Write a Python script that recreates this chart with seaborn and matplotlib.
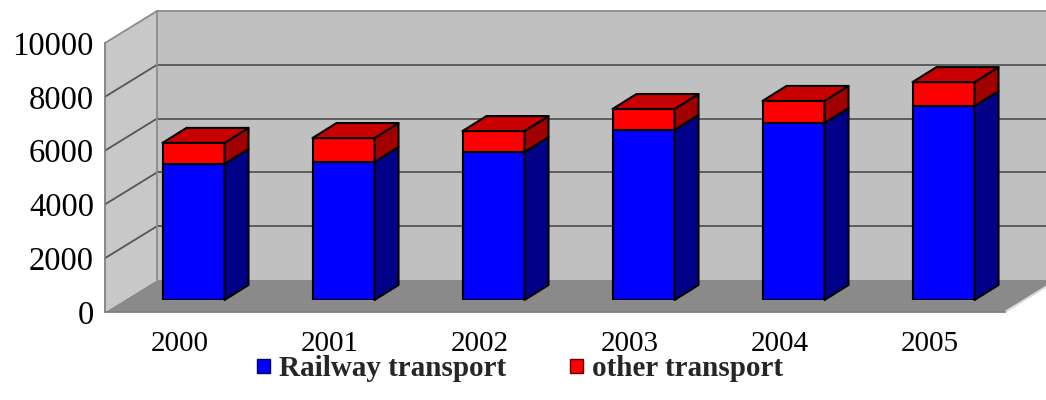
import matplotlib
matplotlib.use("Agg")
import matplotlib.pyplot as plt
from matplotlib.patches import Polygon, Rectangle
from matplotlib.font_manager import FontProperties
import seaborn as sns
import pandas as pd
import numpy as np

# Freight carried per year (thousand tonnes)
years = ["2000", "2001", "2002", "2003", "2004", "2005"]
railway = [5060, 5130, 5500, 6320, 6580, 7210]
other = [780, 890, 780, 780, 820, 890]
y_ticks = [0, 2000, 4000, 6000, 8000, 10000]
series_names = ["Railway transport", "other transport"]

df = pd.DataFrame({"year": years, "railway": railway, "other": other})
df["total"] = df["railway"] + df["other"]

sns.set_theme(style="white")
plt.rcParams["font.family"] = ["Liberation Serif", "DejaVu Serif"]

W, H = 1046, 400
fig = plt.figure(figsize=(W / 100, H / 100), dpi=100)
fig.patch.set_facecolor("white")

# front frame of the 3-D box (carries the axes, ticks and labels)
fx0, fy0, fw, fh = 105, 312, 900, 269
ax = fig.add_axes([fx0 / W, (H - fy0) / H, fw / W, fh / H])
ax.set_xlim(-0.5, 5.5)
ax.set_ylim(0, 10000)
ax.set_facecolor("none")

# bar plane sits slightly behind the front frame
bx_off, by_off = 13.5, 12
ax_b = fig.add_axes([(fx0 + bx_off) / W, (H - fy0 + by_off) / H, fw / W, fh / H])
ax_b.set_xlim(-0.5, 5.5)
ax_b.set_ylim(0, 10000)
ax_b.set_facecolor("none")
ax_b.axis("off")

px_x = fw / 6.0
px_y = fh / 10000.0

# wall depth (back plane offset)
dxw = 52 / px_x
dyw = 32 / px_y
ymax = 10000

grid_c = "#555555"
edge_c = "#8c8c8c"

# floor
floor = Polygon([(-0.5, 0), (5.5, 0), (5.5 + dxw, dyw), (-0.5 + dxw, dyw)],
                closed=True, facecolor="#8a8a8a", edgecolor="none", clip_on=False, zorder=0)
ax.add_patch(floor)
ax.plot([5.5, 5.5 + dxw], [0, dyw], color="#dcdcdc", lw=1.5, clip_on=False, zorder=0.5)

# side wall
side = Polygon([(-0.5, 0), (-0.5 + dxw, dyw), (-0.5 + dxw, ymax + dyw), (-0.5, ymax)],
               closed=True, facecolor="#c8c8c8", edgecolor="none", clip_on=False, zorder=0)
ax.add_patch(side)

# back wall
back = Polygon([(-0.5 + dxw, dyw), (5.5 + dxw, dyw), (5.5 + dxw, ymax + dyw), (-0.5 + dxw, ymax + dyw)],
               closed=True, facecolor="#c0c0c0", edgecolor="none", clip_on=False, zorder=0)
ax.add_patch(back)

# gridlines on back and side walls
for v in y_ticks[1:]:
    c = edge_c if v == ymax else grid_c
    ax.plot([-0.5 + dxw, 5.5 + dxw], [v + dyw, v + dyw], color=c, lw=1.3, clip_on=False, zorder=0.6)
    ax.plot([-0.5, -0.5 + dxw], [v, v + dyw], color=c, lw=1.3, clip_on=False, zorder=0.6)
ax.plot([-0.5 + dxw, -0.5 + dxw], [dyw, ymax + dyw], color=edge_c, lw=1.3, clip_on=False, zorder=0.6)

# stacked columns: total (red) underneath, railway (blue) over it
red, red_top, red_side = "#ff0000", "#c80000", "#a00000"
blue, blue_side = "#0000ff", "#000088"
bw = 62 / px_x
sns.barplot(data=df, x="year", y="total", color=red, saturation=1, width=bw,
            edgecolor="black", linewidth=1.5, ax=ax_b)
sns.barplot(data=df, x="year", y="railway", color=blue, saturation=1, width=bw,
            edgecolor="black", linewidth=1.5, ax=ax_b)
ax_b.set_xlim(-0.5, 5.5)
ax_b.set_ylim(0, 10000)

# side and top faces from the drawn bars
ddx = 24 / px_x
ddy = 15 / px_y
bars = list(ax_b.patches)
tot_bars, rail_bars = bars[:6], bars[6:12]
for rb, tb in zip(rail_bars, tot_bars):
    x1 = rb.get_x() + rb.get_width()
    x0 = rb.get_x()
    yr = rb.get_height()
    yt = tb.get_height()
    faces = [
        ([(x1, 0), (x1 + ddx, ddy), (x1 + ddx, yr + ddy), (x1, yr)], blue_side),
        ([(x1, yr), (x1 + ddx, yr + ddy), (x1 + ddx, yt + ddy), (x1, yt)], red_side),
        ([(x0, yt), (x0 + ddx, yt + ddy), (x1 + ddx, yt + ddy), (x1, yt)], red_top),
    ]
    for pts, col in faces:
        ax_b.add_patch(Polygon(pts, closed=True, facecolor=col, edgecolor="black",
                               lw=1.5, joinstyle="round", clip_on=False, zorder=3))

# axes styling
for s in ["top", "right"]:
    ax.spines[s].set_visible(False)
for s in ["left", "bottom"]:
    ax.spines[s].set_color("#808080")
    ax.spines[s].set_linewidth(1.3)
    ax.spines[s].set_zorder(1)

ax.set_yticks(y_ticks)
ax.set_yticklabels([str(v) for v in y_ticks])
ax.tick_params(axis="y", direction="out", length=4.5, width=1.1, color="#808080",
               pad=3.5, labelsize=23.5, labelcolor="black")
ax.set_xticks(range(len(years)))
ax.set_xticklabels(years)
ax.set_xticks(np.arange(-0.5, 6.0, 1.0), minor=True)
ax.tick_params(axis="x", which="major", length=0, pad=14, labelsize=21, labelcolor="black")
ax.tick_params(axis="x", which="minor", direction="out", length=4.5, width=1.1, color="#808080")
ax.set_xlabel("")
ax.set_ylabel("")
ax_b.set_xlabel("")
ax_b.set_ylabel("")

# legend
handles = [Rectangle((0, 0), 1, 1, facecolor=blue, edgecolor="#000060", lw=1),
           Rectangle((0, 0), 1, 1, facecolor=red, edgecolor="#600000", lw=1)]
leg = fig.legend(handles, series_names, loc="center left",
                 bbox_to_anchor=(257 / W, (H - 369) / H), ncol=2, frameon=False,
                 prop=FontProperties(family="Liberation Serif", weight="bold", size=21),
                 handlelength=0.45, handleheight=0.36, handletextpad=0.3,
                 columnspacing=2.2, borderpad=0, borderaxespad=0)

fig.savefig("out.png", dpi=100, facecolor="white")
